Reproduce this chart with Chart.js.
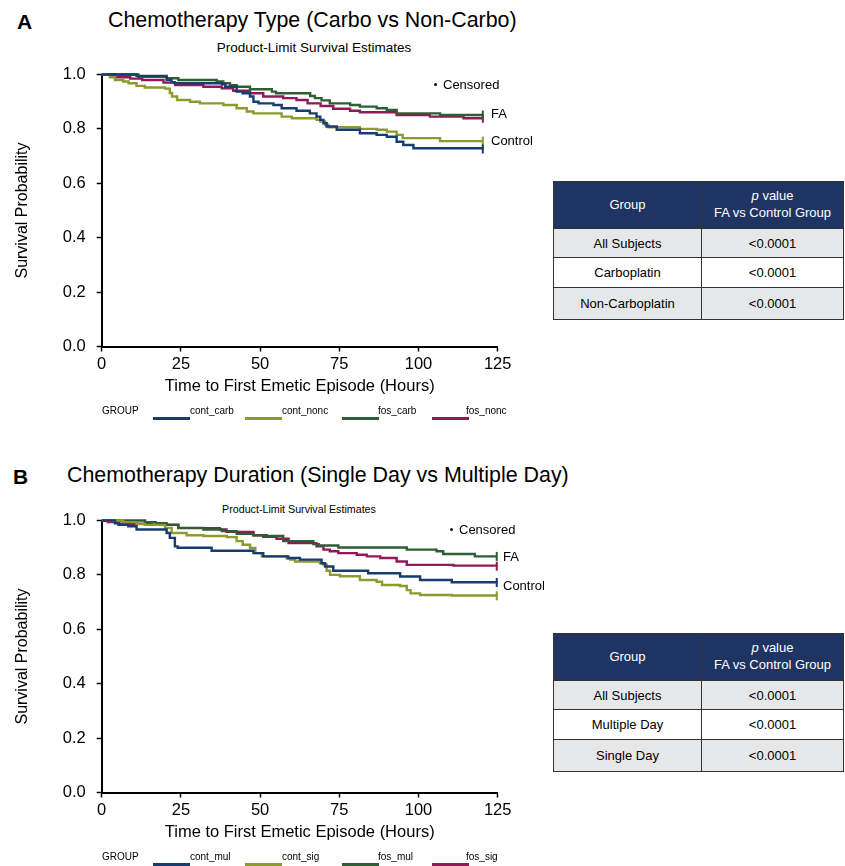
<!DOCTYPE html>
<html>
<head>
<meta charset="utf-8">
<script src="https://cdn.jsdelivr.net/npm/chart.js@4.4.1/dist/chart.umd.min.js"></script>
<style>
  body { margin:0; width:845px; height:866px; overflow:hidden; background:#fff; position:relative;
         font-family:"Liberation Sans", Arial, sans-serif; color:#000; }
  .t { position:absolute; white-space:nowrap; line-height:1; transform:translateY(-50%); }
  .c { transform:translate(-50%,-50%); }
  .dot { position:absolute; width:3px; height:3px; border-radius:50%; background:#111; }
  canvas { position:absolute; left:0; }
  .sw { position:absolute; height:3px; width:37px; }
  table { position:absolute; left:553px; width:291px; border-collapse:collapse; font-size:13px; }
  td, th { border:1.5px solid #333; text-align:center; padding:0; font-weight:normal; }
  th { background:#1f3462; color:#fff; height:46px; line-height:1.3; }
  td { height:28px; }
  tr.g td { background:#e6e7e9; }
</style>
</head>
<body>

<div class="t" style="left:17px;top:21px;font-size:21px;font-weight:bold;">A</div>
<div class="t" style="left:108px;top:21px;font-size:21.4px;">Chemotherapy Type (Carbo vs Non-Carbo)</div>
<div class="t c" style="left:314px;top:48px;font-size:13.5px;">Product-Limit Survival Estimates</div>
<canvas id="chartA" width="530" height="420" style="top:0;width:530px;height:420px;"></canvas>
<div class="dot" style="left:434px;top:83px;"></div>
<div class="t" style="left:443px;top:84px;font-size:13px;">Censored</div>
<div class="t" style="left:491px;top:113px;font-size:13px;">FA</div>
<div class="t" style="left:491px;top:140px;font-size:13px;">Control</div>
<div id="legendA"></div>
<table style="top:181px;">
  <tr><th style="width:147px;">Group</th><th><i>p</i> value<br>FA vs Control Group</th></tr>
  <tr class="g"><td>All Subjects</td><td>&lt;0.0001</td></tr>
  <tr><td style="height:29px;">Carboplatin</td><td>&lt;0.0001</td></tr>
  <tr class="g"><td style="height:31px;">Non-Carboplatin</td><td>&lt;0.0001</td></tr>
</table>

<div class="t" style="left:13px;top:476px;font-size:21px;font-weight:bold;">B</div>
<div class="t" style="left:67px;top:476px;font-size:21.4px;">Chemotherapy Duration (Single Day vs Multiple Day)</div>
<div class="t c" style="left:299px;top:509px;font-size:10.7px;">Product-Limit Survival Estimates</div>
<canvas id="chartB" width="530" height="420" style="top:446px;width:530px;height:420px;"></canvas>
<div class="dot" style="left:450px;top:528px;"></div>
<div class="t" style="left:459px;top:529px;font-size:13px;">Censored</div>
<div class="t" style="left:503px;top:556px;font-size:13px;">FA</div>
<div class="t" style="left:503px;top:585px;font-size:13px;">Control</div>
<div id="legendB"></div>
<table style="top:633px;">
  <tr><th style="width:147px;">Group</th><th><i>p</i> value<br>FA vs Control Group</th></tr>
  <tr class="g"><td>All Subjects</td><td>&lt;0.0001</td></tr>
  <tr><td style="height:29px;">Multiple Day</td><td>&lt;0.0001</td></tr>
  <tr class="g"><td style="height:31px;">Single Day</td><td>&lt;0.0001</td></tr>
</table>

<script>
// axis ticks
const xTicks = [0, 25, 50, 75, 100, 125];
const yTicks = [0, 0.2, 0.4, 0.6, 0.8, 1.0];

// Panel A: carbo vs non-carbo (time in hours, survival probability)
const contCarbTime = [0, 11, 20.5, 22, 23, 37.9, 39, 42.6, 44.5, 46.8, 47.9, 49.5, 54.2, 56.8, 61.5, 65.7, 67.8, 69, 70, 71, 74.2, 81.5, 86.8, 90, 93.1, 95.2, 98.4, 120.3];
const contCarbSurv = [1, 0.995, 0.98, 0.972, 0.968, 0.964, 0.955, 0.937, 0.931, 0.919, 0.9, 0.894, 0.888, 0.876, 0.867, 0.857, 0.845, 0.833, 0.821, 0.809, 0.797, 0.784, 0.778, 0.771, 0.753, 0.741, 0.729, 0.726];

const contNoncTime = [0, 2.6, 4.2, 6.8, 8.5, 11, 13.6, 20, 21.5, 22.2, 23.8, 27.9, 31, 38.4, 42.6, 45.8, 47.9, 56.8, 60, 67.8, 69, 70.5, 71.6, 81.5, 86.8, 90, 93.1, 95, 106.8, 120.3];
const contNoncSurv = [1, 0.99, 0.98, 0.974, 0.968, 0.958, 0.952, 0.948, 0.932, 0.919, 0.906, 0.9, 0.894, 0.888, 0.876, 0.864, 0.857, 0.845, 0.839, 0.833, 0.827, 0.815, 0.806, 0.8, 0.797, 0.79, 0.778, 0.766, 0.755, 0.755];

const fosCarbTime = [0, 11.6, 20.5, 24.2, 36.3, 38.4, 40.5, 42.6, 46.8, 53.7, 55, 65.8, 67.3, 69.4, 72, 78.4, 81.5, 86.8, 90, 93.1, 106.8, 120.3];
const fosCarbSurv = [1, 0.992, 0.986, 0.98, 0.974, 0.968, 0.961, 0.955, 0.946, 0.937, 0.931, 0.921, 0.913, 0.905, 0.894, 0.888, 0.882, 0.876, 0.87, 0.857, 0.851, 0.851];

const fosNoncTime = [0, 4.2, 9, 12.8, 19.5, 23.2, 32.1, 37.9, 41.5, 46.8, 51, 57.3, 61.5, 65, 69.1, 73.1, 78.4, 81.5, 93.1, 103.6, 114.2, 120.3];
const fosNoncSurv = [1, 0.99, 0.985, 0.98, 0.97, 0.961, 0.955, 0.949, 0.94, 0.931, 0.919, 0.913, 0.906, 0.894, 0.884, 0.874, 0.867, 0.861, 0.851, 0.845, 0.839, 0.839];

// Panel B: multiple vs single day
const contMulTime = [0, 4.2, 5.3, 8.4, 11, 20.5, 21.5, 23.1, 24, 34.7, 47.9, 51, 58.9, 62.6, 69.4, 70.5, 73.1, 84.1, 94.2, 100.5, 110.5, 124.7];
const contMulSurv = [1, 0.99, 0.984, 0.979, 0.967, 0.954, 0.936, 0.905, 0.9, 0.889, 0.88, 0.868, 0.862, 0.856, 0.843, 0.831, 0.815, 0.806, 0.794, 0.781, 0.773, 0.772];

const contSigTime = [0, 6.8, 11, 13.6, 20, 22.1, 26.8, 32.1, 39.5, 42.6, 44.5, 46.8, 48.5, 50.5, 58.4, 59.5, 61, 68.9, 70, 71, 72.1, 75.2, 81.5, 86.8, 88.5, 94.2, 96.3, 97.5, 100.5, 110.5, 124.7];
const contSigSurv = [1, 0.994, 0.987, 0.984, 0.973, 0.954, 0.946, 0.943, 0.939, 0.924, 0.911, 0.899, 0.88, 0.868, 0.86, 0.856, 0.849, 0.843, 0.838, 0.815, 0.8, 0.795, 0.781, 0.775, 0.763, 0.759, 0.744, 0.732, 0.726, 0.724, 0.723];

const fosMulTime = [0, 13.7, 17, 20.5, 24.2, 32.1, 37.9, 42.6, 47.9, 52.1, 57.3, 66.8, 68.5, 74.7, 96.3, 105.7, 107.8, 117.8, 124.7];
const fosMulSurv = [1, 0.994, 0.99, 0.985, 0.973, 0.967, 0.961, 0.951, 0.946, 0.943, 0.924, 0.913, 0.908, 0.901, 0.893, 0.887, 0.877, 0.868, 0.868];

const fosSigTime = [0, 1.9, 5.5, 15.8, 24.2, 37.3, 39.4, 47.9, 51, 55.2, 59, 67.8, 70, 72, 74.7, 80.5, 83.7, 87.9, 93.1, 96.3, 111, 124.7];
const fosSigSurv = [1, 0.994, 0.988, 0.984, 0.972, 0.967, 0.958, 0.946, 0.94, 0.933, 0.917, 0.905, 0.893, 0.887, 0.88, 0.874, 0.868, 0.862, 0.849, 0.837, 0.834, 0.832];

const groupLabelsA = ['cont_carb', 'cont_nonc', 'fos_carb', 'fos_nonc'];
const groupLabelsB = ['cont_mul', 'cont_sig', 'fos_mul', 'fos_sig'];
const lineColors = ['#173d6e', '#8c9a2e', '#2e5e34', '#8f1a57'];

function toPoints(times, surv) {
  return times.map((t, i) => ({ x: t, y: surv[i] }));
}

function kmChart(id, series, labels) {
  const datasets = series.map((s, i) => {
    const data = toPoints(s[0], s[1]);
    return {
      label: labels[i],
      data,
      stepped: true,
      borderColor: lineColors[i],
      backgroundColor: lineColors[i],
      borderWidth: 2.4,
      pointStyle: 'line',
      rotation: 90,
      pointBorderWidth: 2,
      pointRadius: data.map((_, j) => j === data.length - 1 ? 4.5 : 0),
      clip: false
    };
  });

  return new Chart(document.getElementById(id), {
    type: 'line',
    data: { datasets },
    options: {
      responsive: false,
      animation: false,
      events: [],
      layout: { padding: { top: 74.5, left: 0, right: 32.3, bottom: 24.1 } },
      plugins: { legend: { display: false }, tooltip: { enabled: false } },
      scales: {
        x: {
          type: 'linear', min: 0, max: 125,
          afterBuildTicks: s => { s.ticks = xTicks.map(v => ({ value: v })); },
          afterFit: s => { s.height = 49.4; },
          ticks: { color: '#000', padding: 3, font: { size: 16.5, family: 'Liberation Sans' } },
          grid: { drawOnChartArea: false, tickLength: 5, tickWidth: 1.5, tickColor: '#000' },
          border: { color: '#000', width: 2 },
          title: { display: true, text: 'Time to First Emetic Episode (Hours)', color: '#000',
                   padding: 0, font: { size: 16.5, family: 'Liberation Sans' } }
        },
        y: {
          min: 0, max: 1,
          afterBuildTicks: s => { s.ticks = yTicks.map(v => ({ value: v })); },
          afterFit: s => { s.width = 101.7; },
          ticks: { color: '#000', padding: 11, font: { size: 16.5, family: 'Liberation Sans' },
                   callback: v => v.toFixed(1) },
          grid: { drawOnChartArea: false, tickLength: 5, tickWidth: 1.5, tickColor: '#000' },
          border: { color: '#000', width: 2 },
          title: { display: true, text: 'Survival Probability', color: '#000',
                   padding: { top: 12.9, bottom: 0 }, font: { size: 16, family: 'Liberation Sans' } }
        }
      }
    }
  });
}

function buildLegend(id, labels, top, labelLefts) {
  const box = document.getElementById(id);
  let html = `<div class="t" style="left:102px;top:${top}px;font-size:10px;">GROUP</div>`;
  const swLefts = [153, 245, 342, 432];
  labels.forEach((lab, i) => {
    html += `<div class="sw" style="left:${swLefts[i]}px;top:${top + 6}px;background:${lineColors[i]};"></div>`;
    html += `<div class="t" style="left:${labelLefts[i]}px;top:${top}px;font-size:10px;">${lab}</div>`;
  });
  box.innerHTML = html;
}

kmChart('chartA', [
  [contCarbTime, contCarbSurv],
  [contNoncTime, contNoncSurv],
  [fosCarbTime, fosCarbSurv],
  [fosNoncTime, fosNoncSurv]
], groupLabelsA);

kmChart('chartB', [
  [contMulTime, contMulSurv],
  [contSigTime, contSigSurv],
  [fosMulTime, fosMulSurv],
  [fosSigTime, fosSigSurv]
], groupLabelsB);

buildLegend('legendA', groupLabelsA, 411, [190, 282, 378, 466]);
buildLegend('legendB', groupLabelsB, 857, [190, 282, 378, 466]);
</script>
</body>
</html>
